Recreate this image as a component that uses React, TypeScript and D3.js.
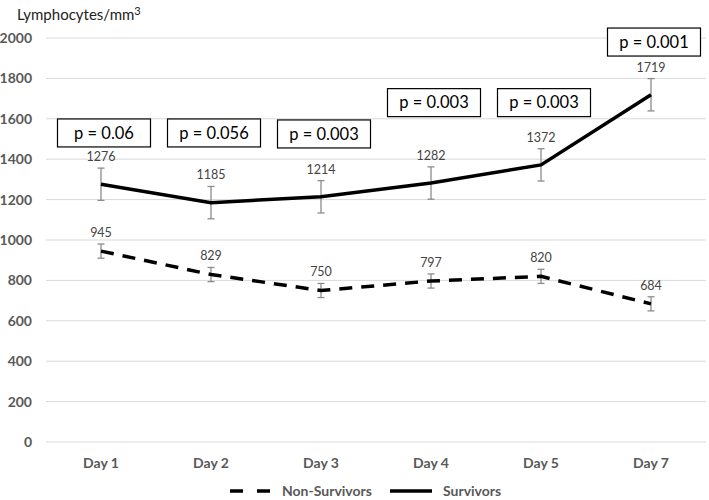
import React from "react";
import * as d3 from "d3";

const days = ["Day 1", "Day 2", "Day 3", "Day 4", "Day 5", "Day 7"];
const survivors = [1276, 1185, 1214, 1282, 1372, 1719];
const survivorsErr = [80, 80, 80, 80, 80, 80];
const nonSurvivors = [945, 829, 750, 797, 820, 684];
const nonSurvivorsErr = [35, 35, 35, 35, 35, 35];
const pValues = ["p = 0.06", "p = 0.056", "p = 0.003", "p = 0.003", "p = 0.003", "p = 0.001"];
const pLevels = [1530, 1530, 1525, 1680, 1680, 1980];
const yTicks = [0, 200, 400, 600, 800, 1000, 1200, 1400, 1600, 1800, 2000];

const W = 709;
const H = 500;
const left = 46;
const right = 706;
const top = 38;
const bottom = 442;

export default function App() {
  const x = d3.scaleBand<string>().domain(days).range([left, right]);
  const y = d3.scaleLinear().domain([0, 2000]).range([bottom, top]);
  const cx = (d: string) => (x(d) as number) + x.bandwidth() / 2;
  const line = d3
    .line<number>()
    .x((_, i) => cx(days[i]))
    .y((v) => y(v));
  const font = "Lato, 'Open Sans', sans-serif";
  const gray = "#595959";

  const errBar = (v: number, e: number, i: number, key: string) => {
    const px = cx(days[i]);
    return (
      <g key={key} stroke="#8c8c8c" strokeWidth={1.3}>
        <line x1={px} x2={px} y1={y(v + e)} y2={y(v - e)} />
        <line x1={px - 3.5} x2={px + 3.5} y1={y(v + e)} y2={y(v + e)} />
        <line x1={px - 3.5} x2={px + 3.5} y1={y(v - e)} y2={y(v - e)} />
      </g>
    );
  };

  return (
    <svg
      width={W}
      height={H}
      style={{ position: "absolute", left: 0, top: 0, background: "#fff" }}
      fontFamily={font}
    >
      <rect width={W} height={H} fill="#fff" />
      {yTicks.map((t) => (
        <g key={t}>
          <line x1={left} x2={right} y1={y(t)} y2={y(t)} stroke="#d9d9d9" strokeWidth={1} />
          <text x={32} y={y(t)} dy="0.35em" textAnchor="end" fontSize={14} fontWeight="bold" fill={gray}>
            {t}
          </text>
        </g>
      ))}
      <text x={17} y={20} fontSize={15} fill="#222">
        Lymphocytes/mm<tspan dy={-5} fontSize={11}>3</tspan>
      </text>
      {days.map((d) => (
        <text key={d} x={cx(d)} y={468} textAnchor="middle" fontSize={14} fontWeight="bold" fill={gray}>
          {d}
        </text>
      ))}
      {nonSurvivors.map((v, i) => errBar(v, nonSurvivorsErr[i], i, "n" + i))}
      {survivors.map((v, i) => errBar(v, survivorsErr[i], i, "s" + i))}
      <path d={line(nonSurvivors) || ""} fill="none" stroke="#000" strokeWidth={3.5} strokeDasharray="13 9" />
      <path d={line(survivors) || ""} fill="none" stroke="#000" strokeWidth={3.5} />
      {nonSurvivors.map((v, i) => (
        <text key={"nl" + i} x={cx(days[i])} y={y(v + nonSurvivorsErr[i]) - 7} textAnchor="middle" fontSize={12.5} fill="#444">
          {v}
        </text>
      ))}
      {survivors.map((v, i) => (
        <text key={"sl" + i} x={cx(days[i])} y={y(v + survivorsErr[i]) - 7} textAnchor="middle" fontSize={12.5} fill="#444">
          {v}
        </text>
      ))}
      {pValues.map((p, i) => {
        const bx = cx(days[i]) + 3;
        const by = y(pLevels[i]);
        return (
          <g key={"p" + i}>
            <rect x={bx - 46.5} y={by - 14} width={93} height={28} fill="#fff" stroke="#000" strokeWidth={1.2} />
            <text x={bx} y={by} dy="0.35em" textAnchor="middle" fontSize={16.5} fill="#000">
              {p}
            </text>
          </g>
        );
      })}
      <g>
        <line x1={230} x2={270} y1={491} y2={491} stroke="#000" strokeWidth={3.5} strokeDasharray="13 14" />
        <text x={282} y={491} dy="0.35em" fontSize={14} fontWeight="bold" fill={gray}>
          Non-Survivors
        </text>
        <line x1={390} x2={432} y1={491} y2={491} stroke="#000" strokeWidth={3.5} />
        <text x={443} y={491} dy="0.35em" fontSize={14} fontWeight="bold" fill={gray}>
          Survivors
        </text>
      </g>
    </svg>
  );
}
